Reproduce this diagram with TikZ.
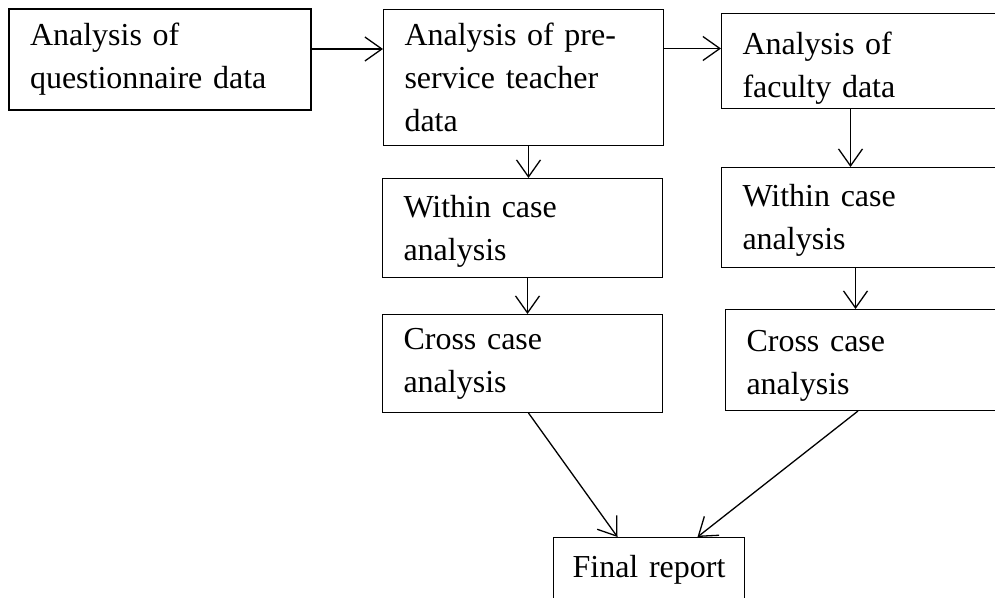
\documentclass[tikz,border=0pt]{standalone}
\usepackage{fontspec}
\setmainfont[WordSpace=0.8]{Liberation Serif}
\usetikzlibrary{arrows.meta}

\begin{document}
\begin{tikzpicture}[x=1pt,y=-1pt,>={Straight Barb[length=17pt,width=24pt]},
  font=\fontsize{32}{43}\selectfont,
  box/.style={draw,line width=1pt,anchor=north west,align=left,inner xsep=21pt,inner ysep=0pt},
  conn/.style={->,line width=1.3pt}]
\clip (0,0) rectangle (995,597);
\fill[white] (0,0) rectangle (995,597);
% top row
\node[box,line width=2pt,minimum width=302pt,minimum height=101pt,text width=260pt] (quest) at (8,8) {Analysis of\\questionnaire data};
\node[box,minimum width=280pt,minimum height=136pt,text width=238pt] (pst) at (383,9) {Analysis of pre-\\service teacher\\data};
\node[box,minimum width=290pt,minimum height=95pt,text width=248pt] (fac) at (721,13) {\rule{0pt}{36pt}Analysis of\\faculty data};
% left column
\node[box,minimum width=280pt,minimum height=99pt,text width=238pt] (withinL) at (382,178) {\rule{0pt}{28pt}Within case\\analysis};
\node[box,minimum width=280pt,minimum height=98pt,text width=238pt] (crossL) at (382,314) {Cross case\\analysis};
% right column
\node[box,minimum width=290pt,minimum height=100pt,text width=248pt] (withinR) at (721,167) {\rule{0pt}{28pt}Within case\\analysis};
\node[box,minimum width=290pt,minimum height=101pt,text width=248pt] (crossR) at (725,309) {\rule{0pt}{32pt}Cross case\\analysis};
% bottom
\node[box,align=center,inner xsep=0pt,minimum width=191pt,minimum height=64pt,text width=191pt] (final) at (553,537) {Final report};
% connectors
\draw[conn] ([yshift=10.5pt]quest.east) -- ([yshift=10.5pt]quest.east -| pst.west);
\draw[conn] ([yshift=29pt]pst.east) -- ([yshift=29pt]pst.east -| fac.west);
\draw[conn] ([xshift=5pt]pst.south) -- ([xshift=5pt]pst.south |- withinL.north);
\draw[conn] ([xshift=5pt]withinL.south) -- ([xshift=5pt]withinL.south |- crossL.north);
\draw[conn] ([xshift=-16pt]fac.south) -- ([xshift=-16pt]fac.south |- withinR.north);
\draw[conn] ([xshift=-11pt]withinR.south) -- ([xshift=-11pt]withinR.south |- crossR.north);
\draw[conn] ([xshift=6pt]crossL.south) -- ([xshift=-31.5pt]final.north);
\draw[conn] ([xshift=133pt]crossR.south west) -- ([xshift=48.5pt]final.north);
\end{tikzpicture}
\end{document}
